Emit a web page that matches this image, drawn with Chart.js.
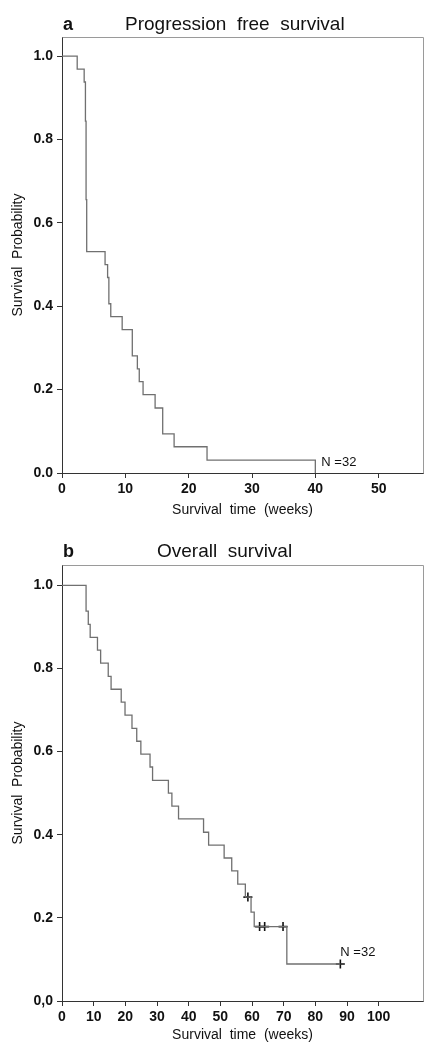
<!DOCTYPE html>
<html>
<head>
<meta charset="utf-8">
<script src="https://cdn.jsdelivr.net/npm/chart.js@4"></script>
<style>
    body { margin: 0; background: #fff; }
    canvas { display: block; }
</style>
</head>
<body>
<canvas id="pfsChart" width="434" height="525"></canvas>
<canvas id="osChart" width="434" height="525"></canvas>
<script>
        // Panel a - progression free survival (Kaplan-Meier steps)
        const pfsWeeks = [0, 2.4, 3.5, 3.7, 3.8, 3.9, 6.8, 7.2, 7.4, 7.7, 9.5, 11.1, 11.9, 12.2, 12.8, 14.7, 15.9, 17.7, 22.9, 40.0];
        const pfsSurvival = [1, 0.969, 0.938, 0.844, 0.656, 0.531, 0.5, 0.469, 0.406, 0.375, 0.344, 0.281, 0.25, 0.219, 0.188, 0.156, 0.094, 0.063, 0.031, 0];

        // Panel b - overall survival
        const osWeeks = [0, 7.6, 8.3, 8.9, 11.2, 12.2, 14.6, 15.5, 18.7, 19.9, 22.1, 23.6, 24.9, 27.8, 28.6, 33.6, 34.7, 36.8, 44.7, 46.3, 51.2, 53.6, 55.5, 57.9, 59.7, 60.7, 71.0, 87.9];
        const osSurvival = [1, 0.938, 0.906, 0.875, 0.844, 0.813, 0.781, 0.75, 0.719, 0.688, 0.656, 0.625, 0.594, 0.563, 0.531, 0.5, 0.469, 0.438, 0.406, 0.375, 0.344, 0.313, 0.281, 0.25, 0.214, 0.179, 0.089, 0.089];
        const osCensorWeeks = [58.7, 62.4, 64.0, 69.8, 87.9];
        const osCensorSurvival = [0.25, 0.179, 0.179, 0.179, 0.089];

        // Tick labels
        const pfsXTicks = [0, 10, 20, 30, 40, 50];
        const osXTicks = [0, 10, 20, 30, 40, 50, 60, 70, 80, 90, 100];
        const yTicks = [0, 0.2, 0.4, 0.6, 0.8, 1.0];
        const pfsYLabels = ['0.0', '0.2', '0.4', '0.6', '0.8', '1.0'];
        const osYLabels = ['0,0', '0.2', '0.4', '0.6', '0.8', '1.0'];

        const FONT = "'Liberation Sans', Arial, Helvetica, sans-serif";

        function toPoints(xs, ys) {
            return xs.map((x, i) => ({ x: x, y: ys[i] }));
        }

        // Panel letter, title, N label and the light top/right frame
        const kmDecor = {
            id: 'kmDecor',
            afterDraw(chart, args, opts) {
                const ctx = chart.ctx;
                const area = chart.chartArea;
                const xs = chart.scales.x;
                const ys = chart.scales.y;
                ctx.save();

                ctx.strokeStyle = '#9a9a9a';
                ctx.lineWidth = 1;
                ctx.beginPath();
                ctx.moveTo(Math.round(area.left) + 0.5, Math.round(area.top) + 0.5);
                ctx.lineTo(Math.round(area.right) + 0.5, Math.round(area.top) + 0.5);
                ctx.lineTo(Math.round(area.right) + 0.5, Math.round(area.bottom) + 0.5);
                ctx.stroke();

                ctx.fillStyle = '#111';
                ctx.textBaseline = 'middle';
                ctx.textAlign = 'left';
                ctx.font = 'bold 18px ' + FONT;
                ctx.fillText(opts.letter, area.left + 1, area.top - opts.titleDy);

                ctx.font = '19px ' + FONT;
                ctx.fillText(opts.title, area.left + opts.titleDx, area.top - opts.titleDy);

                ctx.font = '13px ' + FONT;
                ctx.fillText('N =32', xs.getPixelForValue(opts.nAt[0]) + opts.nOffset[0],
                    ys.getPixelForValue(opts.nAt[1]) + opts.nOffset[1]);
                ctx.restore();
            }
        };

        function makeScales(xMax, yMax, xTicks, yLabels, xHeight) {
            return {
                x: {
                    type: 'linear',
                    min: 0,
                    max: xMax,
                    afterFit: s => { s.height = xHeight; },
                    afterBuildTicks: s => { s.ticks = xTicks.map(v => ({ value: v })); },
                    border: { display: true, color: '#333', width: 1 },
                    grid: { drawOnChartArea: false, drawTicks: true, tickLength: 5, color: '#333' },
                    ticks: {
                        autoSkip: false,
                        maxRotation: 0,
                        padding: 3,
                        color: '#111',
                        font: { family: FONT, size: 14, weight: 'bold' }
                    },
                    title: {
                        display: true,
                        text: 'Survival  time  (weeks)',
                        color: '#111',
                        font: { family: FONT, size: 14 },
                        padding: { top: 0, bottom: 6 }
                    }
                },
                y: {
                    type: 'linear',
                    min: 0,
                    max: yMax,
                    afterFit: s => { s.width = 62; },
                    afterBuildTicks: s => { s.ticks = yTicks.map(v => ({ value: v })); },
                    border: { display: true, color: '#333', width: 1 },
                    grid: { drawOnChartArea: false, drawTicks: true, tickLength: 5, color: '#333' },
                    ticks: {
                        padding: 4,
                        color: '#111',
                        font: { family: FONT, size: 14, weight: 'bold' },
                        callback: function(value, index) {
                            return yLabels[index];
                        }
                    },
                    title: {
                        display: true,
                        text: 'Survival  Probability',
                        color: '#111',
                        font: { family: FONT, size: 14 },
                        padding: { top: 10, bottom: 0 }
                    }
                }
            };
        }

        const stepStyle = {
            stepped: 'before',
            borderColor: '#707070',
            borderWidth: 1.3,
            pointRadius: 0,
            fill: false
        };

        // Progression free survival chart
        new Chart(document.getElementById('pfsChart'), {
            type: 'line',
            data: {
                datasets: [Object.assign({ data: toPoints(pfsWeeks, pfsSurvival) }, stepStyle)]
            },
            options: {
                responsive: false,
                animation: false,
                layout: { padding: { top: 37, right: 11, left: 0, bottom: 0 } },
                plugins: {
                    legend: { display: false },
                    tooltip: { enabled: false },
                    kmDecor: {
                        letter: 'a',
                        title: 'Progression  free  survival',
                        titleDx: 63,
                        titleDy: 12,
                        nAt: [40, 0.031],
                        nOffset: [6, 2]
                    }
                },
                scales: makeScales(57, 1.046, pfsXTicks, pfsYLabels, 52)
            },
            plugins: [kmDecor]
        });

        // Overall survival chart
        new Chart(document.getElementById('osChart'), {
            type: 'line',
            data: {
                datasets: [
                    Object.assign({ data: toPoints(osWeeks, osSurvival) }, stepStyle),
                    {
                        data: toPoints(osCensorWeeks, osCensorSurvival),
                        showLine: false,
                        pointStyle: 'cross',
                        pointRadius: 4.5,
                        borderWidth: 1.6,
                        borderColor: '#111',
                        backgroundColor: '#111'
                    }
                ]
            },
            options: {
                responsive: false,
                animation: false,
                layout: { padding: { top: 40, right: 11, left: 0, bottom: 0 } },
                plugins: {
                    legend: { display: false },
                    tooltip: { enabled: false },
                    kmDecor: {
                        letter: 'b',
                        title: 'Overall  survival',
                        titleDx: 95,
                        titleDy: 13,
                        nAt: [87.9, 0.089],
                        nOffset: [0, -12]
                    }
                },
                scales: makeScales(114, 1.049, osXTicks, osYLabels, 49)
            },
            plugins: [kmDecor]
        });
</script>
</body>
</html>
